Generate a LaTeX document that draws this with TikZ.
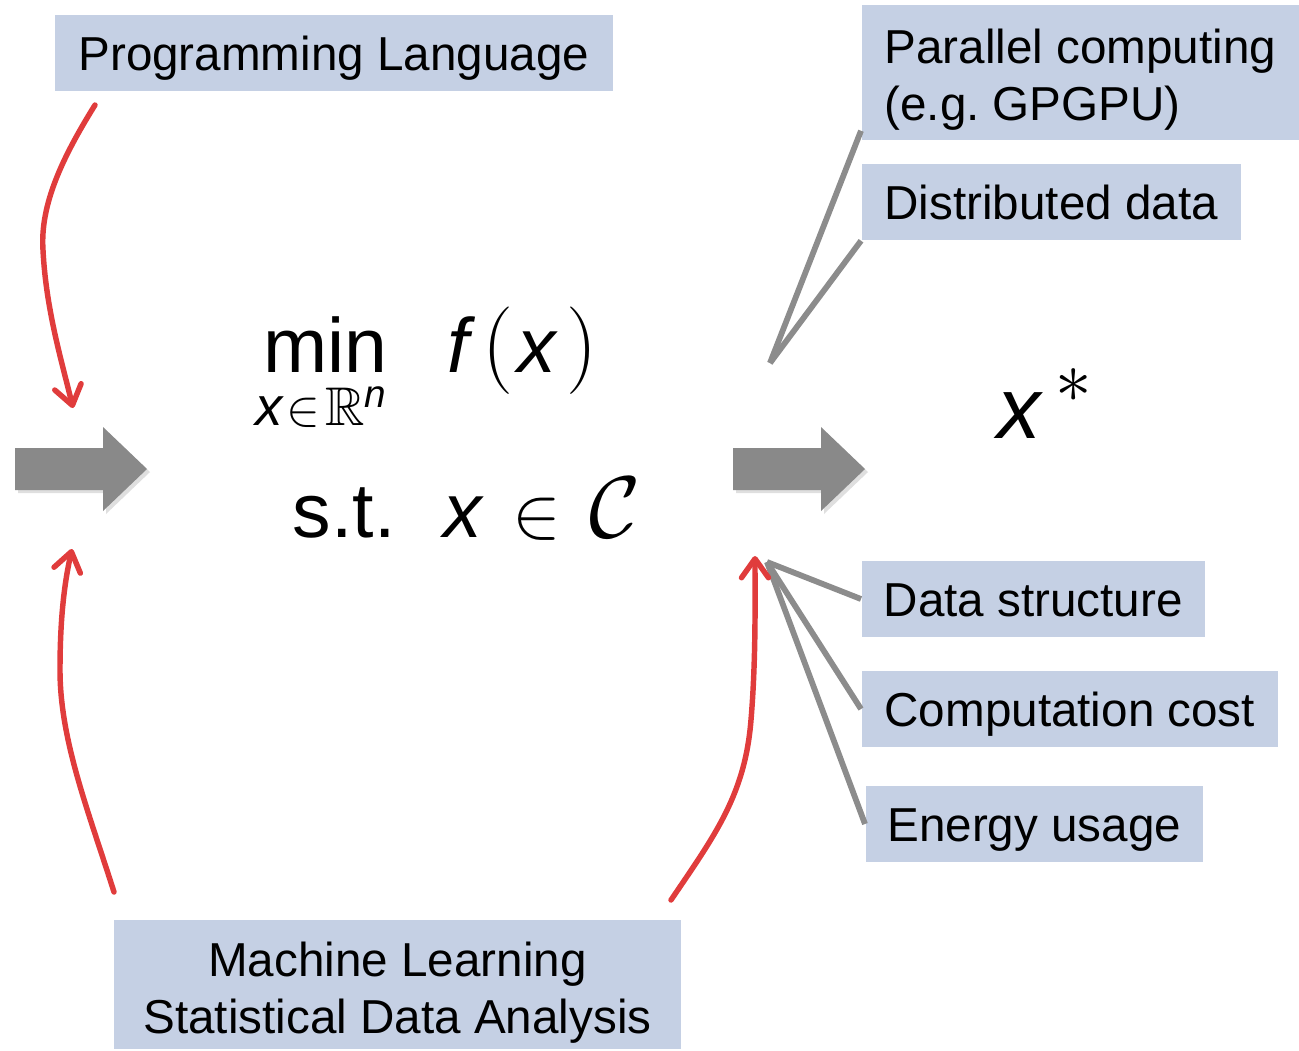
\documentclass[tikz,border=0pt]{standalone}
\usepackage{amssymb}
\usepackage{fontspec}
\setmainfont{Liberation Sans}
\usetikzlibrary{arrows.meta,shadows,calc}
\definecolor{boxblue}{RGB}{197,208,228}
\definecolor{redarr}{RGB}{224,60,60}
\definecolor{grayline}{RGB}{140,140,140}
\definecolor{grayarrow}{RGB}{137,137,137}
\begin{document}
\begin{tikzpicture}[x=0.01cm,y=-0.01cm,
  boxbase/.style={fill=boxblue, inner xsep=0pt, inner ysep=0pt,
    font=\fontsize{13.54}{16.1}\selectfont},
  box/.style={boxbase, anchor=west, text height=9.7pt, text depth=0pt,
    minimum height=0.76cm},
  tallbox/.style={boxbase, align=#1},
  redarrow/.style={draw=redarr, line width=1.55pt, line cap=round,
    -{Straight Barb[length=0.19cm,width=0.27cm,round]}},
  gline/.style={draw=grayline, line width=1.65pt},
  blockarrow/.style={fill=grayarrow,
    drop shadow={opacity=0.25, shadow xshift=0.03cm, shadow yshift=-0.03cm}},
  math/.style={inner sep=0pt, anchor=base west, font=\fontsize{21.9}{26}\selectfont}
]
\useasboundingbox (0,0) rectangle (1299,1050);

% boxes
\node[box, minimum width=5.58cm] (prog) at (54,53) {Programming Language};
\node[tallbox=left, anchor=west, minimum width=4.37cm, minimum height=1.35cm] (par) at (861,72.5)
  {\rule{0pt}{14pt}Parallel computing\\(e.g.\ GPGPU)};
\node[box, minimum width=3.79cm] (dist) at (861,202) {Distributed data};
\node[box, minimum width=3.43cm] (ds) at (861,599) {Data structure};
\node[box, minimum width=4.16cm] (cc) at (861,709) {Computation cost};
\node[box, minimum width=3.37cm] (eu) at (865,824) {Energy usage};
\node[tallbox=center, anchor=center, minimum width=5.67cm, minimum height=1.29cm] (ml) at (397.5,984.5)
  {\rule{0pt}{14.5pt}Machine Learning\\Statistical Data Analysis};

% block arrows
\path[blockarrow] (15,448) -- (103,448) -- (103,427) -- (147,469) -- (103,511)
  -- (103,490) -- (15,490) -- cycle;
\path[blockarrow] (733,448) -- (821,448) -- (821,427) -- (865,469) -- (821,511)
  -- (821,490) -- (733,490) -- cycle;

% formula
\node[math] (min) at (263,372) {min};
\node[math, font=\fontsize{15.5}{18}\selectfont] (sub) at (255,425)
  {\textit{x}\hspace{0.5pt}${\in}$\hspace{1.5pt}$\mathbb{R}$\raisebox{5pt}{\fontsize{11}{12}\selectfont\textit{n}}};
\node[math] (fx) at (447,372)
  {\textit{f}\hspace{2pt}{\fontsize{25}{28}\selectfont$($}\hspace{1pt}\textit{x}\hspace{2.5pt}{\fontsize{25}{28}\selectfont$)$}};
\node[math] (st) at (292,537) {s.t.};
\node[math] (xc) at (443,537) {\textit{x}\hspace{8pt}$\in$\hspace{8pt}{\fontsize{23}{26}\selectfont$\mathcal{C}$}};
\node[math, font=\fontsize{24.7}{28}\selectfont] (xstar) at (997,438)
  {\textit{x}\hspace{3.5pt}\raisebox{10pt}{\fontsize{20}{20}\selectfont$\ast$}};

% coordinates
\coordinate (hubup) at (770,363);
\coordinate (hubdown) at (767,562);
\coordinate (pl-out) at (95,105);
\coordinate (in-top) at (73,408);
\coordinate (ml-out1) at (114,892);
\coordinate (in-bot) at (72,549);
\coordinate (ml-out2) at (671,900);
\coordinate (out-bot) at (755,556);

% gray connectors
\draw[gline] (hubup) -- ($(par.south west)+(0,-10)$);
\draw[gline] (hubup) -- (dist.south west);
\draw[gline] (hubdown) -- (ds.west);
\draw[gline] (hubdown) -- (cc.west);
\draw[gline] (hubdown) -- (eu.west);

% red arrows
\draw[redarrow] (pl-out) .. controls (62,158) and (40,205) .. (43,250)
  .. controls (46,310) and (62,362) .. (in-top);
\draw[redarrow] (ml-out1) .. controls (88,810) and (60,740) .. (60,670)
  .. controls (60,615) and (65,580) .. (in-bot);
\draw[redarrow] (ml-out2) .. controls (715,835) and (745,795) .. (751,720)
  .. controls (756,660) and (755,600) .. (out-bot);
\end{tikzpicture}
\end{document}
